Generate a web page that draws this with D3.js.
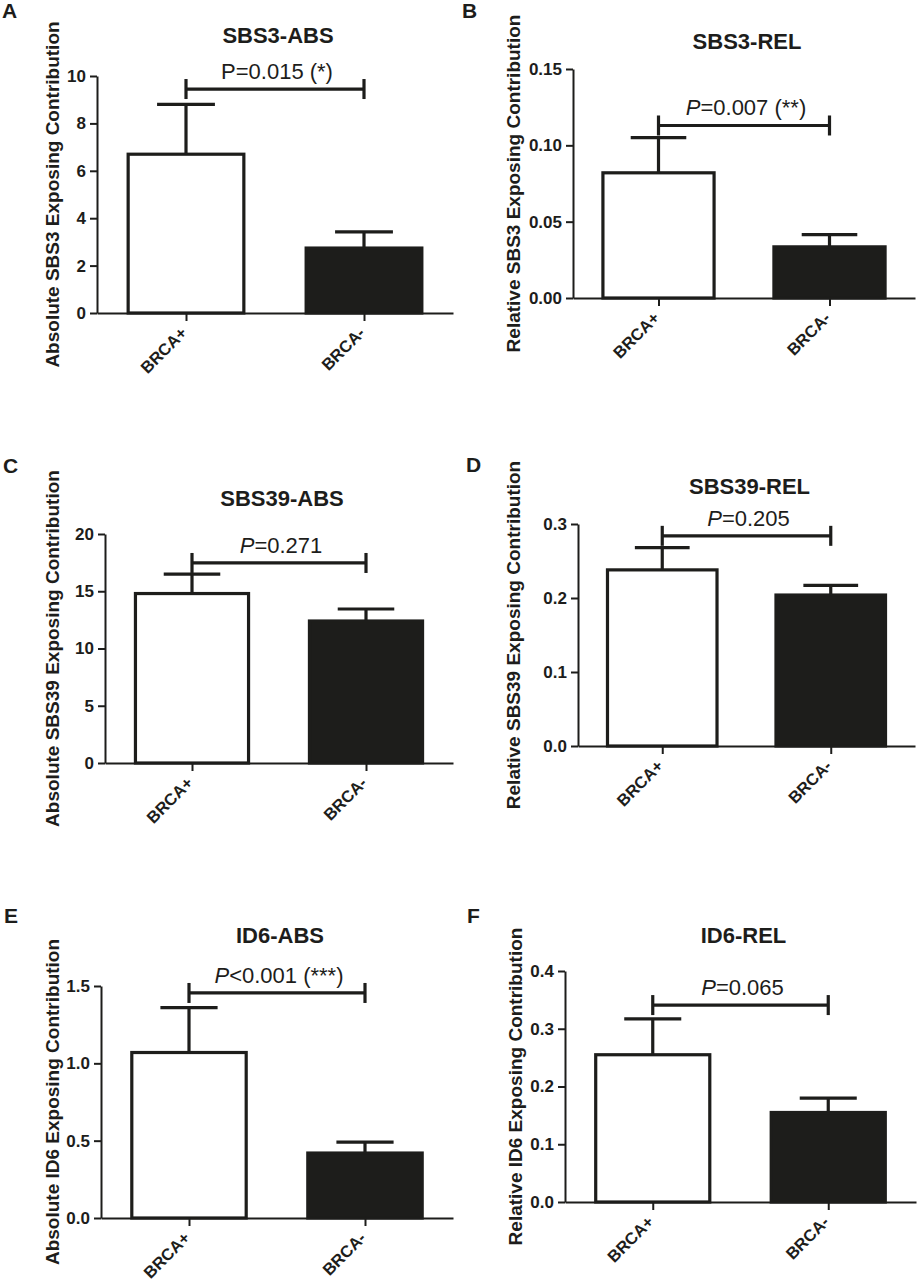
<!DOCTYPE html>
<html>
<head>
<meta charset="utf-8">
<script src="https://cdn.jsdelivr.net/npm/d3@7"></script>
<style>
  body { margin: 0; background: #fff; }
  text { font-family: "Liberation Sans", Arial, Helvetica, sans-serif; fill: #1d1d1b; }
</style>
</head>
<body>
<svg class="fig"></svg>
<script>
// Total dimensions
var w = 920,
    h = 1284;

var svg = d3.select(".fig")
    .attr("width", w)
    .attr("height", h);

// ---------- data ----------
var groups = ["BRCA+", "BRCA-"];
var panelLetters = ["A", "B", "C", "D", "E", "F"];
var titles = ["SBS3-ABS", "SBS3-REL", "SBS39-ABS", "SBS39-REL", "ID6-ABS", "ID6-REL"];
var yLabels = [
    "Absolute SBS3 Exposing Contribution",
    "Relative SBS3 Exposing Contribution",
    "Absolute SBS39 Exposing Contribution",
    "Relative SBS39 Exposing Contribution",
    "Absolute ID6 Exposing Contribution",
    "Relative ID6 Exposing Contribution"
];
// bar heights (mean) for BRCA+ / BRCA-
var means = [
    [6.7, 2.74],
    [0.082, 0.0335],
    [14.8, 12.4],
    [0.238, 0.204],
    [1.07, 0.42],
    [0.255, 0.155]
];
// top of the error bar for BRCA+ / BRCA-
var errTops = [
    [8.8, 3.42],
    [0.105, 0.0415],
    [16.5, 13.45],
    [0.268, 0.217],
    [1.36, 0.49],
    [0.317, 0.18]
];
var yMaxes = [10, 0.15, 20, 0.3, 1.5, 0.4];
var yTicks = [
    [0, 2, 4, 6, 8, 10],
    [0, 0.05, 0.10, 0.15],
    [0, 5, 10, 15, 20],
    [0, 0.1, 0.2, 0.3],
    [0, 0.5, 1.0, 1.5],
    [0, 0.1, 0.2, 0.3, 0.4]
];
var tickFormats = ["d", ".2f", "d", ".1f", ".1f", ".1f"];
var pPrefix = ["P", "P", "P", "P", "P", "P"];
var pRest = ["=0.015 (*)", "=0.007 (**)", "=0.271", "=0.205", "<0.001 (***)", "=0.065"];
var pItalic = [false, true, true, true, true, true];
var bracketLevels = [9.45, 0.113, 17.47, 0.284, 1.455, 0.341];

// ---------- layout (pixel positions of each panel) ----------
var layout = [
    { x0: 97,  x1: 453, top: 76,  bottom: 313,  titleY: 43,  labX: 2,   labY: 18,  ylabX: 52 },
    { x0: 573, x1: 915, top: 69,  bottom: 298,  titleY: 49,  labX: 462, labY: 18,  ylabX: 513 },
    { x0: 105, x1: 453, top: 534, bottom: 763,  titleY: 506, labX: 3,   labY: 473, ylabX: 52 },
    { x0: 578, x1: 915, top: 524, bottom: 746,  titleY: 494, labX: 466, labY: 472, ylabX: 513 },
    { x0: 101, x1: 453, top: 986, bottom: 1218, titleY: 943, labX: 4,   labY: 923, ylabX: 52 },
    { x0: 565, x1: 916, top: 971, bottom: 1202, titleY: 943, labX: 467, labY: 923, ylabX: 515 }
];

var ink = "#1d1d1b";

var drawPanel = function(i) {
    var L = layout[i];
    var g = svg.append("g").attr("class", "panel-" + panelLetters[i]);

    var xScale = d3.scaleBand()
        .domain(groups)
        .range([L.x0, L.x1])
        .paddingInner(0.35)
        .paddingOuter(0.175);

    var yScale = d3.scaleLinear()
        .domain([0, yMaxes[i]])
        .range([L.bottom, L.top]);

    var bw = xScale.bandwidth();
    var cx = function(d) { return xScale(d) + bw / 2; };

    // Bars
    g.selectAll("rect.bar")
        .data(groups)
        .enter().append("rect")
        .attr("class", "bar")
        .attr("x", function(d) { return xScale(d); })
        .attr("y", function(d, j) { return yScale(means[i][j]); })
        .attr("width", bw)
        .attr("height", function(d, j) { return L.bottom - yScale(means[i][j]); })
        .attr("fill", function(d, j) { return j === 0 ? "#fff" : ink; })
        .attr("stroke", ink)
        .attr("stroke-width", 3.2);

    // Error bars (upper only)
    g.selectAll("line.err")
        .data(groups)
        .enter().append("line")
        .attr("class", "err")
        .attr("x1", cx).attr("x2", cx)
        .attr("y1", function(d, j) { return yScale(means[i][j]); })
        .attr("y2", function(d, j) { return yScale(errTops[i][j]); })
        .attr("stroke", ink)
        .attr("stroke-width", 3.2);

    g.selectAll("line.cap")
        .data(groups)
        .enter().append("line")
        .attr("class", "cap")
        .attr("x1", function(d) { return cx(d) - bw / 4; })
        .attr("x2", function(d) { return cx(d) + bw / 4; })
        .attr("y1", function(d, j) { return yScale(errTops[i][j]); })
        .attr("y2", function(d, j) { return yScale(errTops[i][j]); })
        .attr("stroke", ink)
        .attr("stroke-width", 3.2);

    // Axes
    var yAxis = d3.axisLeft(yScale)
        .tickValues(yTicks[i])
        .tickFormat(d3.format(tickFormats[i]))
        .tickSize(7)
        .tickSizeOuter(0)
        .tickPadding(4);

    var gy = g.append("g")
        .attr("class", "y axis")
        .attr("transform", "translate(" + L.x0 + ",0)")
        .call(yAxis);

    var xPoint = d3.scalePoint()
        .domain(groups)
        .range([L.x0, L.x1])
        .padding(0.5);

    var xAxis = d3.axisBottom(xPoint)
        .tickSize(8)
        .tickSizeOuter(0)
        .tickFormat("");

    var gx = g.append("g")
        .attr("class", "x axis")
        .attr("transform", "translate(0," + L.bottom + ")")
        .call(xAxis);

    [gx, gy].forEach(function(a) {
        a.select(".domain").attr("stroke", ink).attr("stroke-width", 2);
        a.selectAll(".tick line").attr("stroke", ink).attr("stroke-width", 2);
    });
    gy.selectAll(".tick text")
        .attr("fill", ink)
        .attr("font-size", "17px")
        .attr("font-weight", "bold")
        .attr("font-family", "'Liberation Sans', Arial, sans-serif");

    // rotated category labels
    g.selectAll("text.cat")
        .data(groups)
        .enter().append("text")
        .attr("class", "cat")
        .attr("transform", function(d) {
            return "translate(" + (xPoint(d) + 2) + "," + (L.bottom + 21) + ") rotate(-45)";
        })
        .attr("text-anchor", "end")
        .attr("font-size", "16.5px")
        .attr("font-weight", "bold")
        .text(function(d) { return d; });

    // Y axis title
    g.append("text")
        .attr("transform", "translate(" + L.ylabX + "," + ((L.top + L.bottom) / 2) + ") rotate(-90)")
        .attr("text-anchor", "middle")
        .attr("dy", "0.35em")
        .attr("font-size", "19px")
        .attr("font-weight", "bold")
        .text(yLabels[i]);

    // Panel title
    g.append("text")
        .attr("x", (L.x0 + L.x1) / 2 + 3)
        .attr("y", L.titleY)
        .attr("text-anchor", "middle")
        .attr("font-size", "22px")
        .attr("font-weight", "bold")
        .text(titles[i]);

    // Panel letter
    g.append("text")
        .attr("x", L.labX)
        .attr("y", L.labY)
        .attr("font-size", "21px")
        .attr("font-weight", "bold")
        .text(panelLetters[i]);

    // Significance bracket
    var by = yScale(bracketLevels[i]);
    var bx1 = xPoint(groups[0]),
        bx2 = xPoint(groups[1]);
    var bracket = g.append("g").attr("class", "bracket")
        .attr("stroke", ink)
        .attr("stroke-width", 3.2);
    bracket.append("line")
        .attr("x1", bx1).attr("x2", bx2)
        .attr("y1", by).attr("y2", by);
    [bx1, bx2].forEach(function(bx) {
        bracket.append("line")
            .attr("x1", bx).attr("x2", bx)
            .attr("y1", by - 10).attr("y2", by + 10);
    });

    var pt = g.append("text")
        .attr("x", (bx1 + bx2) / 2 + 2)
        .attr("y", by - 10)
        .attr("text-anchor", "middle")
        .attr("font-size", "22px");
    pt.append("tspan")
        .attr("font-style", pItalic[i] ? "italic" : "normal")
        .text(pPrefix[i]);
    pt.append("tspan")
        .text(pRest[i]);
};

for (var i = 0; i < layout.length; i++) {
    drawPanel(i);
}
</script>
</body>
</html>
